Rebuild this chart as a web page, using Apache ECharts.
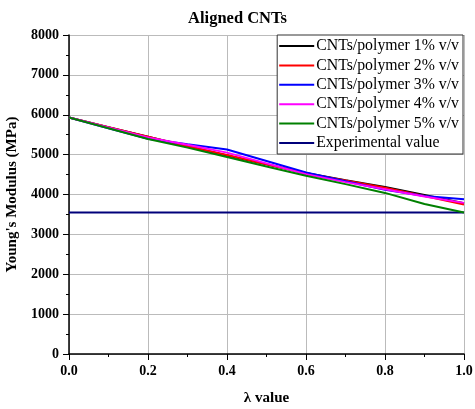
<!DOCTYPE html>
<html>
<head>
<meta charset="utf-8">
<script src="https://cdn.jsdelivr.net/npm/echarts@6/dist/echarts.min.js"></script>
<style>
  html, body { margin: 0; padding: 0; background: #fff; }
  #chart { width: 475px; height: 409px; }
</style>
</head>
<body>
<div id="chart"></div>
<script>
// lambda values (x axis)
var lambda = [0.0, 0.1, 0.2, 0.3, 0.4, 0.5, 0.6, 0.7, 0.8, 0.9, 1.0];

// Young's modulus (MPa)
var cnt1 = [5930, 5690, 5450, 5210, 4980, 4760, 4540, 4360, 4190, 3990, 3780];
var cnt2 = [5930, 5690, 5450, 5210, 4990, 4760, 4530, 4350, 4170, 3960, 3750];
var cnt3 = [5930, 5660, 5400, 5260, 5130, 4840, 4550, 4330, 4120, 3965, 3880];
var cnt4 = [5930, 5680, 5430, 5250, 5050, 4780, 4510, 4310, 4130, 3950, 3790];
var cnt5 = [5930, 5660, 5390, 5175, 4940, 4700, 4470, 4260, 4040, 3760, 3550];
var experimental = [3550, 3550];
var expLambda = [0.0, 1.0];

var names = [
  "CNTs/polymer 1% v/v",
  "CNTs/polymer 2% v/v",
  "CNTs/polymer 3% v/v",
  "CNTs/polymer 4% v/v",
  "CNTs/polymer 5% v/v",
  "Experimental value"
];
var colors = ["#000000", "#ff0000", "#0000ff", "#ff00ff", "#008000", "#00007a"];

function pairs(xs, ys) {
  return xs.map(function (x, i) { return [x, ys[i]]; });
}

var seriesData = [
  pairs(lambda, cnt1),
  pairs(lambda, cnt2),
  pairs(lambda, cnt3),
  pairs(lambda, cnt4),
  pairs(lambda, cnt5),
  pairs(expLambda, experimental)
];

var serif = "Liberation Serif, Times New Roman, serif";

var series = seriesData.map(function (d, i) {
  return {
    name: names[i],
    type: "line",
    data: d,
    symbol: "none",
    lineStyle: { color: colors[i], width: 2 },
    itemStyle: { color: colors[i] },
    z: i === 5 ? 1 : 2
  };
});

var myChart = echarts.init(document.getElementById("chart"));
myChart.setOption({
  animation: false,
  title: {
    text: "Aligned CNTs",
    left: "center",
    top: 5,
    textStyle: { fontFamily: serif, fontSize: 16.5, fontWeight: "bold", color: "#000" }
  },
  legend: {
    data: names,
    orient: "vertical",
    right: 12,
    top: 35,
    icon: "rect",
    itemWidth: 35,
    itemHeight: 2,
    itemGap: 3.4,
    padding: [3, 4, 3, 2],
    backgroundColor: "#fff",
    borderColor: "#333",
    borderWidth: 1,
    textStyle: { fontFamily: serif, fontSize: 15.8, color: "#000", padding: [0, 0, 0, -3] }
  },
  grid: { left: 69, right: 11, top: 35, bottom: 55, containLabel: false, outerBoundsMode: "none" },
  xAxis: {
    type: "value",
    min: 0,
    max: 1,
    interval: 0.2,
    name: "λ value",
    nameLocation: "middle",
    nameGap: 37,
    nameTextStyle: { fontFamily: serif, fontSize: 15, fontWeight: "bold", color: "#000" },
    axisLine: { show: true, lineStyle: { color: "#000", width: 1.5 } },
    axisTick: { show: true, length: 6, lineStyle: { color: "#000" } },
    minorTick: { show: true, splitNumber: 2, length: 3, lineStyle: { color: "#000" } },
    axisLabel: {
      fontFamily: serif, fontSize: 14, fontWeight: "bold", color: "#000", margin: 10,
      formatter: function (v) { return v.toFixed(1); }
    },
    splitLine: { show: true, lineStyle: { color: "#bbb", width: 1 } }
  },
  yAxis: {
    type: "value",
    min: 0,
    max: 8000,
    interval: 1000,
    name: "Young's Modulus (MPa)",
    nameLocation: "middle",
    nameGap: 41,
    nameTextStyle: { fontFamily: serif, fontSize: 15, fontWeight: "bold", color: "#000" },
    axisLine: { show: true, lineStyle: { color: "#000", width: 1.5 } },
    axisTick: { show: true, length: 6, lineStyle: { color: "#000" } },
    minorTick: { show: true, splitNumber: 2, length: 3, lineStyle: { color: "#000" } },
    axisLabel: {
      fontFamily: serif, fontSize: 14, fontWeight: "bold", color: "#000", margin: 10,
      formatter: function (v) { return String(v); }
    },
    splitLine: { show: true, lineStyle: { color: "#bbb", width: 1 } }
  },
  series: series
});
</script>
</body>
</html>
